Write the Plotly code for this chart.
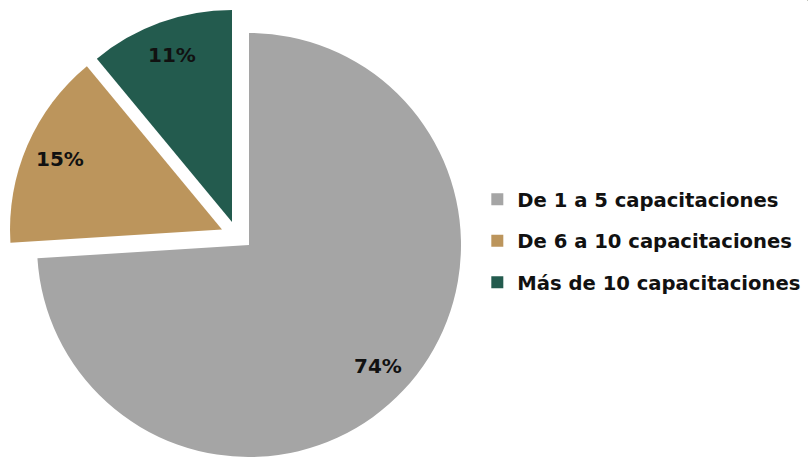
import math
import plotly.graph_objects as go

labels = ["De 1 a 5 capacitaciones", "De 6 a 10 capacitaciones", "Más de 10 capacitaciones"]
values = [74, 15, 11]
colors = ["#A5A5A5", "#BC955C", "#235B4E"]
text_labels = ["74%", "15%", "11%"]

W, H = 809, 457
R = 212
# slice centers in pixels (gray not exploded, others pulled out)
centers = [(249, 245), (222, 229.5), (232, 222)]
LABEL_R = 0.835

FONT = "DejaVu Sans"
fig = go.Figure()

total = sum(values)
cum = 0
annotations = []
for i in range(len(labels)):
    cx, cy = centers[i]
    slice_colors = [colors[j] if j == i else "rgba(0,0,0,0)" for j in range(len(labels))]
    fig.add_trace(go.Pie(
        labels=labels, values=values, sort=False, direction="clockwise", rotation=0,
        marker=dict(colors=slice_colors, line=dict(width=0)),
        textinfo="none",
        domain=dict(x=[(cx - R) / W, (cx + R) / W], y=[1 - (cy + R) / H, 1 - (cy - R) / H]),
        showlegend=False, hoverinfo="label+percent",
    ))
    mid = (cum + values[i] / 2) / total * 2 * math.pi
    cum += values[i]
    tx = cx + LABEL_R * R * math.sin(mid)
    ty = cy - LABEL_R * R * math.cos(mid)
    annotations.append(dict(
        x=tx / W, y=1 - ty / H, xref="paper", yref="paper", showarrow=False,
        text=text_labels[i], xanchor="center", yanchor="middle",
        font=dict(family=FONT, size=20, color="#111111", weight="bold"),
    ))

# legend entries (tiny pies carrying the legend colours)
for i in range(len(labels)):
    fig.add_trace(go.Pie(
        labels=[labels[i]], values=[1], marker=dict(colors=[colors[i]], line=dict(width=0)),
        textinfo="none", domain=dict(x=[0.998, 0.999], y=[0.998, 0.999]),
        legendgroup=f"g{i}", showlegend=True, hoverinfo="skip",
    ))

fig.update_layout(
    width=W, height=H,
    margin=dict(l=0, r=0, t=0, b=0),
    paper_bgcolor="white",
    annotations=annotations,
    legend=dict(x=0.59, y=1 - 241 / H, xanchor="left", yanchor="middle", bgcolor="rgba(0,0,0,0)",
                font=dict(family=FONT, size=19.6, color="#111111", weight="bold"),
                tracegroupgap=13, traceorder="grouped"),
)

fig.write_html("out.html", config={"displayModeBar": False},
               post_script="document.body.style.margin='0';")
